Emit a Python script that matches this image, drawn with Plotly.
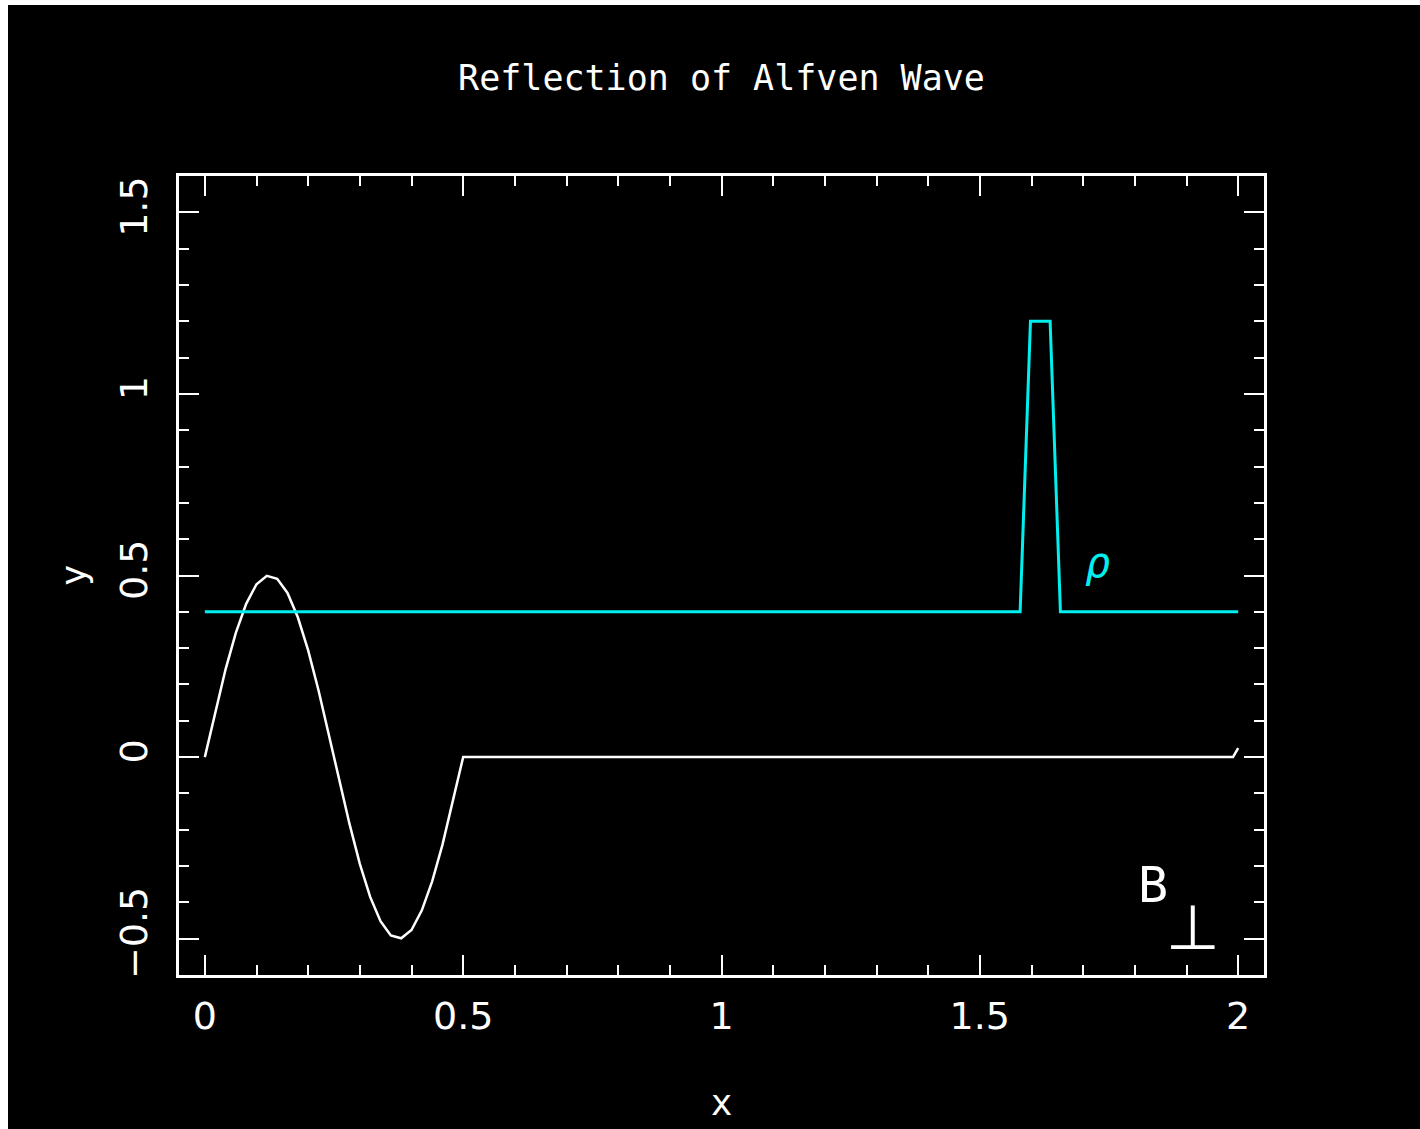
import plotly.graph_objects as go

# White curve: transverse magnetic field B_perp
b_x = [0.00, 0.02, 0.04, 0.06, 0.08, 0.10, 0.12, 0.14, 0.16, 0.18, 0.20, 0.22, 0.24,
       0.26, 0.28, 0.30, 0.32, 0.34, 0.36, 0.38, 0.40, 0.42, 0.44, 0.46, 0.48, 0.50,
       1.99, 2.00]
b_y = [0.000, 0.124, 0.241, 0.342, 0.422, 0.476, 0.499, 0.491, 0.452, 0.385, 0.294, 0.184, 0.063,
       -0.063, -0.184, -0.294, -0.385, -0.452, -0.491, -0.499, -0.476, -0.422, -0.342, -0.241, -0.124, 0.000,
       0.000, 0.025]

# Cyan curve: density rho
rho_x = [0.0, 1.578, 1.598, 1.636, 1.656, 2.0]
rho_y = [0.4, 0.4, 1.2, 1.2, 0.4, 0.4]

x_ticks = [0, 0.5, 1, 1.5, 2]
x_ticklabels = ["0", "0.5", "1", "1.5", "2"]
y_ticks = [-0.5, 0, 0.5, 1, 1.5]
y_ticklabels = ["\u22120.5", "0", "0.5", "1", "1.5"]

FONT = "DejaVu Sans Mono"
TICKFONT = "DejaVu Sans"
W, H = 1420, 1129
L, R, T, B = 179, 156, 176, 154
pw, ph = W - L - R, H - T - B

fig = go.Figure()
fig.add_trace(go.Scatter(x=b_x, y=b_y, mode="lines",
                         line=dict(color="white", width=2.5), showlegend=False))
fig.add_trace(go.Scatter(x=rho_x, y=rho_y, mode="lines",
                         line=dict(color="#00f0f0", width=3), showlegend=False))

axis_common = dict(
    automargin=False,
    showgrid=False, zeroline=False, showline=True, linecolor="white", linewidth=3,
    mirror="ticks", ticks="inside", ticklen=20, tickwidth=2, tickcolor="white",
    tickfont=dict(family=TICKFONT, size=38, color="white"),
    title_font=dict(family=FONT, size=36, color="white"),
)

fig.update_xaxes(range=[-0.05, 2.05], tickvals=x_ticks, ticktext=x_ticklabels,
                 minor=dict(dtick=0.1, tick0=0, ticks="inside", ticklen=10, tickwidth=2,
                            tickcolor="white", showgrid=False),
                 ticklabelstandoff=5, title_text="x", title_standoff=54, **axis_common)
fig.update_yaxes(range=[-0.6, 1.6], tickvals=y_ticks, ticktext=y_ticklabels,
                 minor=dict(dtick=0.1, tick0=0, ticks="inside", ticklen=10, tickwidth=2,
                            tickcolor="white", showgrid=False),
                 tickangle=-90, ticklabelstandoff=14, title_text="y", title_standoff=15,
                 **axis_common)

# black canvas inside the thin white top/left border
fig.add_shape(type="rect", xref="paper", yref="paper", layer="below",
              x0=(8 - L) / pw, x1=3,
              y0=-3, y1=(ph + T - 5) / ph,
              fillcolor="black", line=dict(width=0))

fig.add_annotation(x=1.727, y=0.537, text="<i>\u03c1</i>", showarrow=False,
                   font=dict(family=FONT, size=42, color="#00f0f0"))
fig.add_annotation(x=1.835, y=-0.353, text="B", showarrow=False,
                   font=dict(family=FONT, size=50, color="white"))
fig.add_annotation(x=1.913, y=-0.468, text="\u22a5", showarrow=False,
                   font=dict(family="DejaVu Sans", size=62, color="white"))

fig.update_layout(
    template="none",
    width=W, height=H,
    margin=dict(l=L, r=R, t=T, b=B, autoexpand=False),
    paper_bgcolor="white", plot_bgcolor="black",
    title=dict(text="Reflection of Alfven Wave", x=0.5, xref="paper", xanchor="center",
               y=1 - 78 / H, yref="container", yanchor="middle",
               font=dict(family=FONT, size=35, color="white")),
)

fig.write_html("out.html")
